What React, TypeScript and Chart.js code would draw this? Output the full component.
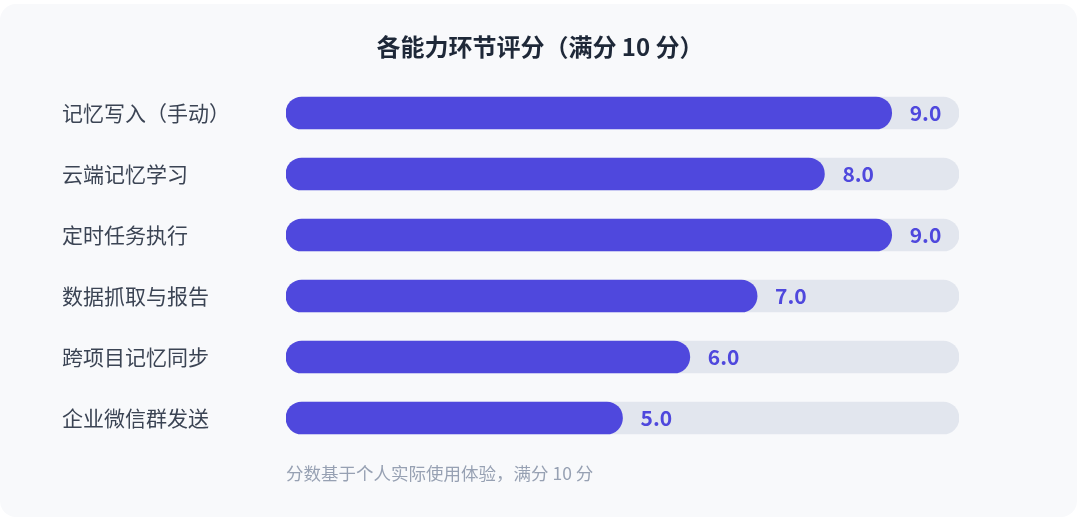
import React, { useEffect, useRef } from "react";
import { Chart, registerables } from "chart.js";

Chart.register(...registerables);

const title = "各能力环节评分（满分 10 分）";
const footnote = "分数基于个人实际使用体验，满分 10 分";
const categories = [
  "记忆写入（手动）",
  "云端记忆学习",
  "定时任务执行",
  "数据抓取与报告",
  "跨项目记忆同步",
  "企业微信群发送",
];
const scores = [9, 8, 9, 7, 6, 5];
const maxScore = 10;
const trackValues = [10, 10, 10, 10, 10, 10];

const FONT = '"Noto Sans CJK SC", "Noto Sans", sans-serif';
const BAR = "#4f48dd";
const TRACK = "#e2e6ee";

const valueLabels = {
  id: "valueLabels",
  afterDatasetsDraw(chart: any) {
    const ctx = chart.ctx;
    const meta = chart.getDatasetMeta(0);
    ctx.save();
    ctx.font = `bold 21px ${FONT}`;
    ctx.fillStyle = BAR;
    ctx.textAlign = "left";
    ctx.textBaseline = "middle";
    meta.data.forEach((bar: any, i: number) => {
      ctx.fillText(scores[i].toFixed(1), bar.x + 18, bar.y);
    });
    ctx.restore();
  },
};

const textPlugin = {
  id: "texts",
  afterDraw(chart: any) {
    const ctx = chart.ctx;
    const area = chart.chartArea;
    ctx.save();
    ctx.font = `bold 24px ${FONT}`;
    ctx.fillStyle = "#1e2838";
    ctx.textAlign = "center";
    ctx.textBaseline = "middle";
    ctx.fillText(title, chart.width / 2, area.top - 36);
    ctx.font = `17.5px ${FONT}`;
    ctx.fillStyle = "#97a1b3";
    ctx.textAlign = "left";
    ctx.fillText(footnote, area.left, area.bottom + 24.5);
    ctx.restore();
  },
};

export default function App() {
  const ref = useRef<HTMLCanvasElement>(null);

  useEffect(() => {
    document.body.style.margin = "0";
    if (!ref.current) return;
    const chart = new Chart(ref.current, {
      type: "bar",
      data: {
        labels: categories,
        datasets: [
          {
            data: scores,
            backgroundColor: BAR,
            borderRadius: 16,
            borderSkipped: false,
            barThickness: 32,
            grouped: false,
            order: 0,
          } as any,
          {
            data: trackValues,
            backgroundColor: TRACK,
            borderRadius: 16,
            borderSkipped: false,
            barThickness: 32,
            grouped: false,
            order: 1,
          } as any,
        ],
      },
      options: {
        indexAxis: "y",
        responsive: false,
        animation: false,
        devicePixelRatio: 1,
        layout: { padding: { left: 62, right: 121, top: 82.5, bottom: 72.5 } },
        plugins: {
          legend: { display: false },
          tooltip: { enabled: false },
          title: { display: false },
        },
        scales: {
          x: { display: false, min: 0, max: maxScore },
          y: {
            grid: { display: false },
            border: { display: false },
            ticks: {
              crossAlign: "far",
              padding: 0,
              color: "#3b4454",
              font: { family: FONT, size: 21 },
            },
            afterFit: (scale: any) => {
              scale.width = 224;
            },
          },
        },
      } as any,
      plugins: [valueLabels, textPlugin],
    });
    return () => chart.destroy();
  }, []);

  return (
    <div
      style={{
        position: "fixed",
        left: 0,
        top: 0,
        width: 1080,
        height: 521,
        background: "#ffffff",
      }}
    >
      <div
        style={{
          position: "absolute",
          left: 0,
          top: 4,
          width: 1077,
          height: 513,
          borderRadius: 16,
          background: "#f8f9fb",
        }}
      />
      <canvas
        ref={ref}
        width={1080}
        height={521}
        style={{ position: "absolute", left: 0, top: 0, width: 1080, height: 521 }}
      />
    </div>
  );
}
